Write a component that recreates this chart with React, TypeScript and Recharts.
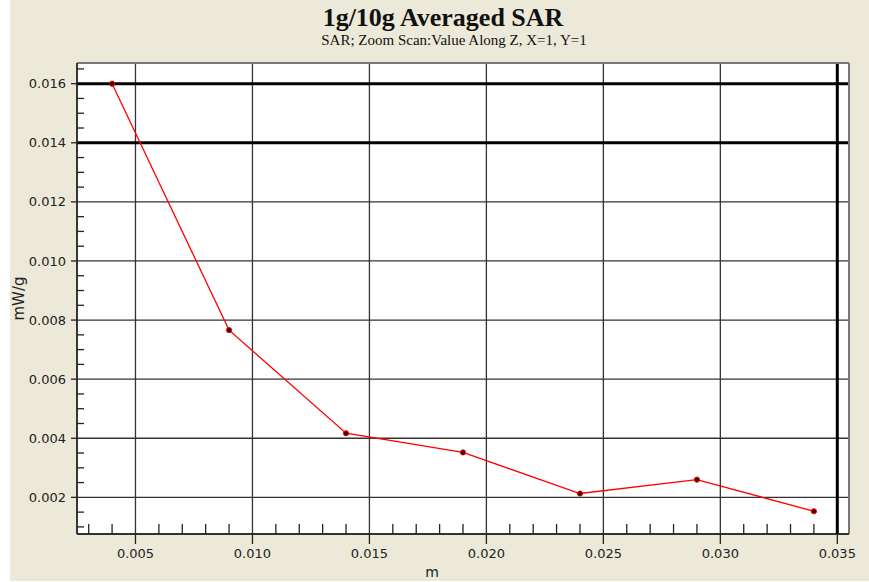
import React from 'react';
import {
    LineChart,
    Line,
    XAxis,
    YAxis,
    CartesianGrid,
    ReferenceLine,
    Label,
} from 'recharts';

// distance along Z (m) and averaged SAR (mW/g)
const zPositions = [0.004, 0.009, 0.014, 0.019, 0.024, 0.029, 0.034];
const sarValues = [0.016, 0.00766, 0.00417, 0.00352, 0.00213, 0.0026, 0.00153];

const xTicks = [0.005, 0.01, 0.015, 0.02, 0.025, 0.03, 0.035];
const yTicks = [0.002, 0.004, 0.006, 0.008, 0.01, 0.012, 0.014, 0.016];
const xMinorTicks = [
    0.003, 0.004, 0.006, 0.007, 0.008, 0.009, 0.011, 0.012, 0.013, 0.014, 0.016, 0.017,
    0.018, 0.019, 0.021, 0.022, 0.023, 0.024, 0.026, 0.027, 0.028, 0.029, 0.031, 0.032,
    0.033, 0.034,
];
const yMinorTicks = [
    0.001, 0.0015, 0.0025, 0.003, 0.0035, 0.0045, 0.005, 0.0055, 0.0065, 0.007, 0.0075,
    0.0085, 0.009, 0.0095, 0.0105, 0.011, 0.0115, 0.0125, 0.013, 0.0135, 0.0145, 0.015,
    0.0155, 0.0165,
];
const heavyY = [0.014, 0.016];
const heavyX = [0.035];

const X_DOMAIN: [number, number] = [0.0025, 0.0355];
const Y_DOMAIN: [number, number] = [0.00076, 0.0167];

const WIDTH = 869;
const HEIGHT = 582;
const PLOT_W = 772;
const PLOT_H = 471;

const data = zPositions.map((z, i) => ({ z, sar: sarValues[i] }));

// pixel lengths turned into data units so the minor ticks sit inside the plot
const xMinorLen = ((Y_DOMAIN[1] - Y_DOMAIN[0]) / PLOT_H) * 10;
const yMinorLen = ((X_DOMAIN[1] - X_DOMAIN[0]) / PLOT_W) * 7;

const SarDot = (props: any) => {
    const { cx, cy } = props;
    if (cx == null || cy == null) return null;
    return <circle cx={cx} cy={cy} r={2.6} fill="#3a0000" stroke="#ff0000" strokeWidth={1} />;
};

const tickStyle = { fill: '#222', fontSize: 13, fontFamily: 'DejaVu Sans, sans-serif' };

export default function App() {
    return (
        <div
            style={{
                position: 'absolute',
                left: 0,
                top: 0,
                width: WIDTH,
                height: HEIGHT,
                background: '#fff',
            }}
        >
            <div
                style={{
                    position: 'absolute',
                    left: 10,
                    top: 0,
                    width: WIDTH - 10,
                    height: HEIGHT - 1,
                    background: '#ECE9D8',
                }}
            />
            <div
                style={{
                    position: 'absolute',
                    left: 443,
                    top: 5,
                    transform: 'translateX(-50%)',
                    whiteSpace: 'nowrap',
                    fontFamily: 'Liberation Serif, serif',
                    fontWeight: 'bold',
                    fontSize: 26,
                    lineHeight: '26px',
                    color: '#111',
                }}
            >
                1g/10g Averaged SAR
            </div>
            <div
                style={{
                    position: 'absolute',
                    left: 454,
                    top: 33,
                    transform: 'translateX(-50%)',
                    whiteSpace: 'nowrap',
                    fontFamily: 'Liberation Serif, serif',
                    fontSize: 15,
                    lineHeight: '15px',
                    color: '#111',
                }}
            >
                SAR; Zoom Scan:Value Along Z, X=1, Y=1
            </div>
            <div style={{ position: 'absolute', left: 0, top: 0 }}>
                <LineChart
                    width={WIDTH}
                    height={HEIGHT}
                    data={data}
                    margin={{ top: 63, right: 20, bottom: 8, left: 0 }}
                >
                    <CartesianGrid fill="#fff" stroke="#333" strokeWidth={1.3} />
                    <XAxis
                        dataKey="z"
                        type="number"
                        domain={X_DOMAIN}
                        ticks={xTicks}
                        allowDataOverflow
                        height={40}
                        tick={tickStyle}
                        tickFormatter={(v: number) => v.toFixed(3)}
                        tickSize={10}
                        tickMargin={5}
                        axisLine={{ stroke: '#222', strokeWidth: 1.5 }}
                        tickLine={{ stroke: '#222', strokeWidth: 1.3 }}
                    >
                        <Label
                            value="m"
                            position="insideBottom"
                            offset={-3}
                            dx={-31}
                            style={{ fill: '#222', fontSize: 14, fontFamily: 'DejaVu Sans, sans-serif' }}
                        />
                    </XAxis>
                    <YAxis
                        type="number"
                        domain={Y_DOMAIN}
                        ticks={yTicks}
                        allowDataOverflow
                        width={77}
                        tick={tickStyle}
                        tickFormatter={(v: number) => v.toFixed(3)}
                        tickSize={6}
                        tickMargin={5}
                        axisLine={{ stroke: '#222', strokeWidth: 1.5 }}
                        tickLine={{ stroke: '#222', strokeWidth: 1.3 }}
                    >
                        <Label
                            value="mW/g"
                            angle={-90}
                            position="insideLeft"
                            offset={19}
                            style={{
                                fill: '#222',
                                fontSize: 15,
                                fontFamily: 'DejaVu Sans, sans-serif',
                                textAnchor: 'middle',
                            }}
                        />
                    </YAxis>
                    {heavyY.map((v) => (
                        <ReferenceLine key={'hy' + v} y={v} stroke="#000" strokeWidth={3} />
                    ))}
                    {heavyX.map((v) => (
                        <ReferenceLine key={'hx' + v} x={v} stroke="#000" strokeWidth={3} />
                    ))}
                    <ReferenceLine y={Y_DOMAIN[1]} stroke="#777" strokeWidth={2} />
                    <ReferenceLine x={X_DOMAIN[1]} stroke="#777" strokeWidth={2} />
                    {xMinorTicks.map((v) => (
                        <ReferenceLine
                            key={'mx' + v}
                            segment={[
                                { x: v, y: Y_DOMAIN[0] },
                                { x: v, y: Y_DOMAIN[0] + xMinorLen },
                            ]}
                            stroke="#222"
                            strokeWidth={1.3}
                        />
                    ))}
                    {yMinorTicks.map((v) => (
                        <ReferenceLine
                            key={'my' + v}
                            segment={[
                                { x: X_DOMAIN[0], y: v },
                                { x: X_DOMAIN[0] + yMinorLen, y: v },
                            ]}
                            stroke="#222"
                            strokeWidth={1.3}
                        />
                    ))}
                    <Line
                        type="linear"
                        dataKey="sar"
                        stroke="#ff0000"
                        strokeWidth={1.3}
                        dot={<SarDot />}
                        activeDot={false}
                        isAnimationActive={false}
                    />
                </LineChart>
            </div>
        </div>
    );
}
